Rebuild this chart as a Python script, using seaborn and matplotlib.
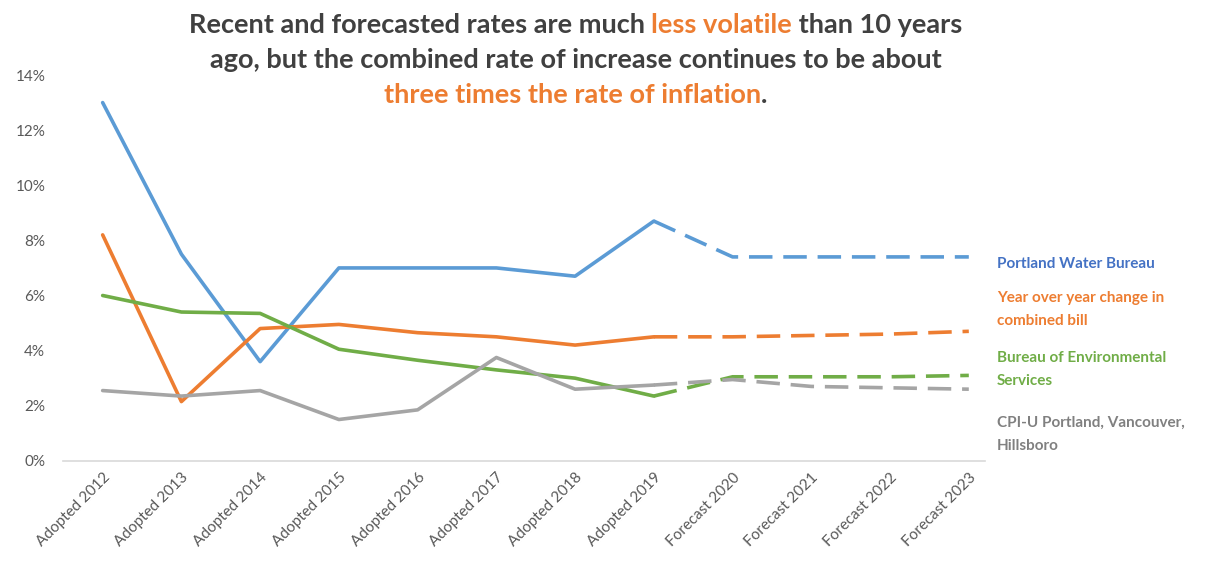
import matplotlib
matplotlib.use("Agg")
import matplotlib.pyplot as plt
import matplotlib.ticker as mticker
from matplotlib.offsetbox import TextArea, HPacker, VPacker, AnnotationBbox
import seaborn as sns
import pandas as pd

# categories
years = ["Adopted 2012", "Adopted 2013", "Adopted 2014", "Adopted 2015",
         "Adopted 2016", "Adopted 2017", "Adopted 2018", "Adopted 2019",
         "Forecast 2020", "Forecast 2021", "Forecast 2022", "Forecast 2023"]

# series values (percent)
water = [13.0, 7.5, 3.6, 7.0, 7.0, 7.0, 6.7, 8.7, 7.4, 7.4, 7.4, 7.4]
combined = [8.2, 2.15, 4.8, 4.95, 4.65, 4.5, 4.2, 4.5, 4.5, 4.55, 4.6, 4.7]
bes = [6.0, 5.4, 5.35, 4.05, 3.65, 3.3, 3.0, 2.35, 3.05, 3.05, 3.05, 3.1]
cpi = [2.55, 2.35, 2.55, 1.5, 1.85, 3.75, 2.6, 2.75, 2.95, 2.7, 2.65, 2.6]

series_names = ["Portland Water Bureau", "Year over year change in\ncombined bill",
                "Bureau of Environmental\nServices", "CPI-U Portland, Vancouver,\nHillsboro"]
line_colors = ["#5B9BD5", "#ED7D31", "#70AD47", "#A5A5A5"]
label_colors = ["#4472C4", "#ED7D31", "#70AD47", "#808080"]
last_actual = 7  # index of Adopted 2019

rows = []
for name, vals in zip(series_names, [water, combined, bes, cpi]):
    for i, v in enumerate(vals):
        if i <= last_actual:
            rows.append((name, i, v / 100, "Actual"))
        if i >= last_actual:
            rows.append((name, i, v / 100, "Forecast"))
df = pd.DataFrame(rows, columns=["series", "x", "rate", "phase"])

sns.set_style("white")
plt.rcParams["font.family"] = ["Lato", "DejaVu Sans"]

fig = plt.figure(figsize=(12.17, 5.62), dpi=100)
ax = fig.add_axes([0.052, 0.18, 0.757, 0.6865])

sns.lineplot(data=df, x="x", y="rate", hue="series", style="phase",
             hue_order=series_names, palette=line_colors,
             dashes={"Actual": "", "Forecast": (6.5, 3)},
             linewidth=2.6, legend=False, ax=ax, estimator=None, sort=False)

ax.set_ylim(0, 0.14)
ax.set_xlim(-0.5, 11.2)
ax.yaxis.set_major_locator(mticker.MultipleLocator(0.02))
ax.yaxis.set_major_formatter(mticker.PercentFormatter(1.0, decimals=0))
ax.set_xticks(range(len(years)))
ax.set_xticklabels(years, rotation=45, ha="right", rotation_mode="anchor")
ax.tick_params(axis="both", length=0, colors="#595959", labelsize=11)
ax.tick_params(axis="y", pad=13)
ax.tick_params(axis="x", pad=7)
ax.set_xlabel("")
ax.set_ylabel("")
for side in ["top", "right", "left"]:
    ax.spines[side].set_visible(False)
ax.spines["bottom"].set_color("#D9D9D9")
ax.spines["bottom"].set_linewidth(1.2)

# labels at right side
label_y = [0.0714, 0.0548, 0.033, 0.0096]
for name, col, yv in zip(series_names, label_colors, label_y):
    ax.annotate(name, xy=(1.0, yv), xycoords=("axes fraction", "data"),
                xytext=(9, 0), textcoords="offset points",
                color=col, fontsize=11, fontweight="bold",
                va="center", ha="left", linespacing=1.8, annotation_clip=False)

# multi-colour title
dark = "#404040"
orange = "#ED7D31"
tprops = dict(fontsize=19.5, fontweight="bold")
title_lines = [
    [("Recent and forecasted rates are much ", dark), ("less volatile", orange),
     (" than 10 years", dark)],
    [("ago, but the combined rate of increase continues to be about", dark)],
    [("three times the rate of inflation", orange), (".", dark)],
]
packs = []
for line in title_lines:
    parts = [TextArea(t, textprops=dict(color=c, **tprops)) for t, c in line]
    packs.append(HPacker(children=parts, pad=0, sep=0, align="baseline"))
box = VPacker(children=packs, pad=0, sep=8, align="center")
fig.add_artist(AnnotationBbox(box, (0.473, 0.893), xycoords="figure fraction",
                              frameon=False, box_alignment=(0.5, 0.5)))

fig.savefig("out.png", dpi=100)
